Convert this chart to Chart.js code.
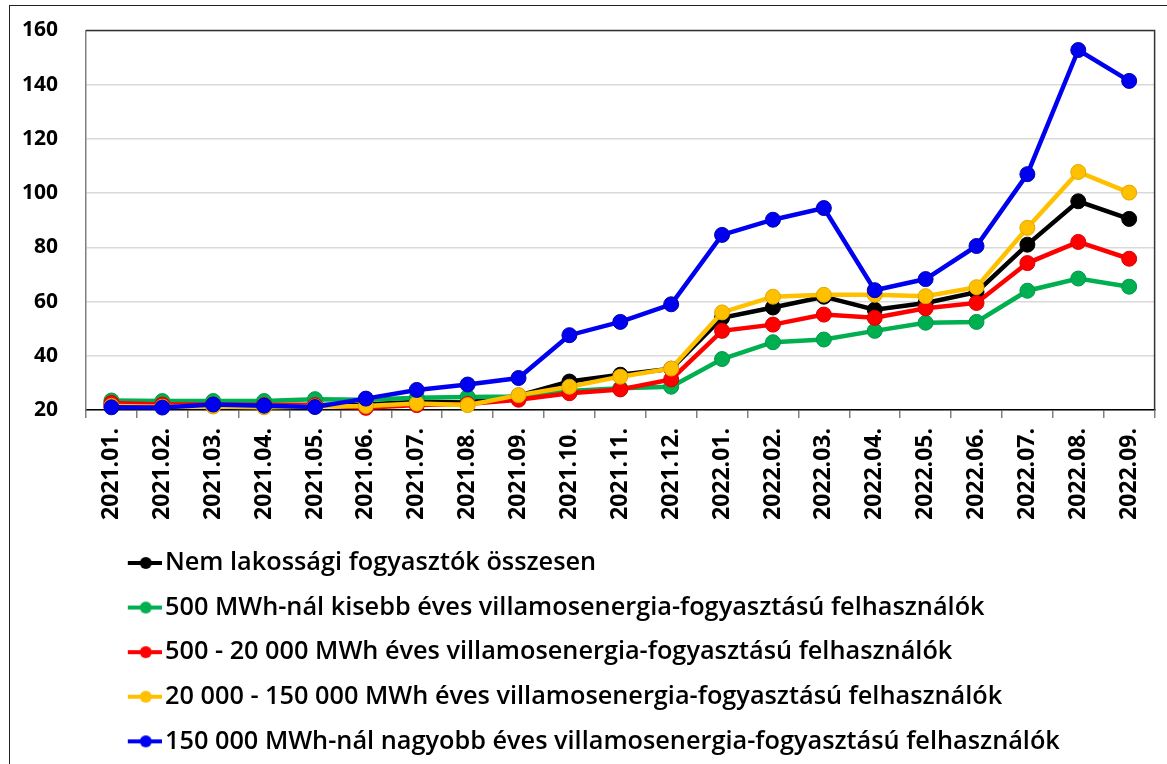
<!DOCTYPE html>
<html><head><meta charset="utf-8">
<script src="https://cdn.jsdelivr.net/npm/chart.js@4"></script>
<style>
html,body{margin:0;padding:0;background:#fff;overflow:hidden}
#wrap{position:relative;width:1167px;height:764px}
#frame{position:absolute;left:9px;top:5px;width:1300px;height:900px;border-left:1.5px solid #222;border-top:1.5px solid #222}
canvas{position:absolute;left:0;top:0}
</style></head><body>
<div id="wrap"><div id="frame"></div><canvas id="c" width="1167" height="764"></canvas></div>
<script>
const categories = ["2021.01.","2021.02.","2021.03.","2021.04.","2021.05.","2021.06.","2021.07.","2021.08.","2021.09.","2021.10.","2021.11.","2021.12.","2022.01.","2022.02.","2022.03.","2022.04.","2022.05.","2022.06.","2022.07.","2022.08.","2022.09."];
const seriesNames = [
  "Nem lakossági fogyasztók összesen",
  "500 MWh-nál kisebb éves villamosenergia-fogyasztású felhasználók",
  "500 - 20 000 MWh éves villamosenergia-fogyasztású felhasználók",
  "20 000 - 150 000 MWh éves villamosenergia-fogyasztású felhasználók",
  "150 000 MWh-nál nagyobb éves villamosenergia-fogyasztású felhasználók"
];
const totalValues  = [22.0,21.8,22.0,21.8,21.8,22.0,23.0,22.8,25.3,30.5,33.0,35.2,54.0,57.8,61.8,57.0,59.5,63.5,81.0,97.0,90.5];
const under500     = [23.5,23.3,23.3,23.3,24.0,23.8,24.5,24.8,25.0,27.0,28.0,28.6,38.8,45.0,46.0,49.2,52.2,52.5,64.0,68.5,65.5];
const from500      = [22.6,22.0,22.0,21.8,21.8,20.8,21.8,22.2,23.8,26.2,27.6,31.3,49.2,51.5,55.2,54.0,57.5,59.5,74.2,82.0,75.8];
const from20000    = [21.5,21.2,21.3,21.0,21.3,21.5,22.4,21.8,25.5,28.6,32.3,35.3,56.0,61.8,62.5,62.5,62.0,65.3,87.2,107.8,100.2];
const over150000   = [21.0,20.9,22.0,21.6,21.1,24.2,27.4,29.4,31.8,47.6,52.5,59.0,84.6,90.2,94.5,64.2,68.3,80.5,107.0,152.8,141.4];
const yTicks = [20,40,60,80,100,120,140,160];

const colors = ["#000000","#00B050","#FF0000","#FFC000","#0000F0"];
const edge   = ["#000000","#00964a","#d90000","#e0a800","#0000b0"];
const values = [totalValues, under500, from500, from20000, over150000];
const drawOrder = [4,3,2,1,0];

function legendMarker(color){
  const cv = document.createElement('canvas');
  cv.width = 152; cv.height = 16;
  const g = cv.getContext('2d');
  g.strokeStyle = color; g.lineWidth = 4;
  g.beginPath(); g.moveTo(118,8); g.lineTo(152,8); g.stroke();
  g.fillStyle = color; g.beginPath(); g.arc(136,8,6,0,Math.PI*2); g.fill();
  return cv;
}
const markers = colors.map(legendMarker);

const datasets = seriesNames.map((name,i)=>({
  label: name,
  data: values[i],
  borderColor: colors[i],
  backgroundColor: colors[i],
  pointBackgroundColor: colors[i],
  pointBorderColor: edge[i],
  pointBorderWidth: 1,
  pointRadius: 7.5,
  borderWidth: 4.5,
  tension: 0,
  clip: false,
  order: drawOrder[i]
}));

const plotFrame = {
  id:'plotFrame',
  beforeDatasetsDraw(chart){
    const {ctx, chartArea:a} = chart;
    ctx.save(); ctx.strokeStyle='#333'; ctx.lineWidth=1.5;
    ctx.beginPath(); ctx.moveTo(a.left,a.top); ctx.lineTo(a.right,a.top); ctx.lineTo(a.right,a.bottom); ctx.stroke();
    ctx.restore();
  }
};

new Chart(document.getElementById('c'), {
  type:'line',
  data:{labels:categories, datasets},
  plugins:[plotFrame],
  options:{
    responsive:false, animation:false,
    events:[],
    layout:{padding:{top:30.5,right:10,left:0,bottom:0}},
    plugins:{
      tooltip:{enabled:false},
      legend:{
        position:'bottom', align:'start', maxHeight:240,
        labels:{
          usePointStyle:true, pointStyleWidth:133, padding:19.3,
          color:'#000',
          font:{family:'"Open Sans"', size:25.3, weight:'600'},
          sort:(a,b)=>a.datasetIndex-b.datasetIndex,
          generateLabels(chart){
            const items = Chart.defaults.plugins.legend.labels.generateLabels(chart);
            items.forEach(it=>{ it.pointStyle = markers[it.datasetIndex]; });
            return items;
          }
        }
      }
    },
    scales:{
      x:{
        offset:true,
        grid:{offset:true, drawOnChartArea:false, drawTicks:true, tickLength:8, color:'#808080', lineWidth:1.5},
        border:{color:'#000', width:1.5},
        ticks:{autoSkip:false, maxRotation:90, minRotation:90, padding:10, color:'#000',
               font:{family:'"Open Sans"', size:23, weight:'bold'}},
        afterFit(s){ s.height = 121; }
      },
      y:{
        min:20, max:160,
        afterBuildTicks(s){ s.ticks = yTicks.map(v=>({value:v})); },
        grid:{color:'#d9d9d9', lineWidth:1.5, drawTicks:true, tickLength:28, tickColor:'rgba(0,0,0,0)'},
        border:{color:'#808080', width:1.5},
        ticks:{padding:0, color:'#000', font:{family:'"Open Sans"', size:21, weight:'bold'}},
        afterFit(s){ s.width = 86; }
      }
    }
  }
});
</script>
</body></html>
